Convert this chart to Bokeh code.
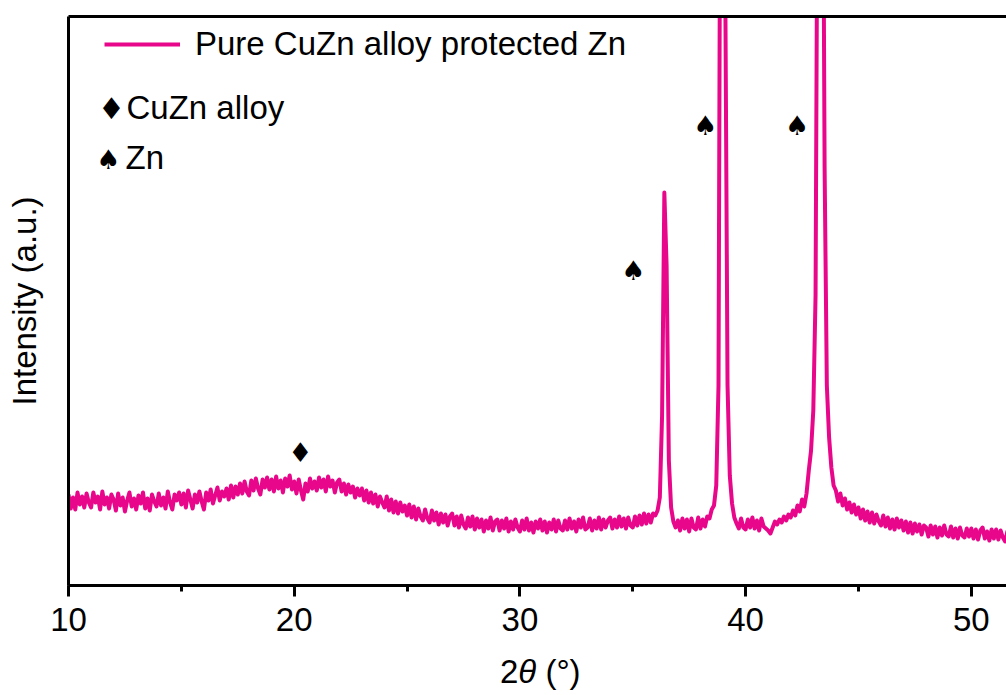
from bokeh.plotting import figure
from bokeh.layouts import column
from bokeh.models import (Range1d, LinearAxis, FixedTicker, SingleIntervalTicker,
                          Legend, LegendItem, Label, ColumnDataSource, Div)
from bokeh.core.properties import value
from bokeh.embed import file_html
from bokeh.resources import INLINE

# ---------------- data ----------------
two_theta_start = 10.0
two_theta_step = 0.1
intensity = [
    91, 77, 88, 76, 93, 81, 89, 78, 92, 83,        # 10
    78, 93, 83, 89, 76, 94, 81, 88, 77, 91,        # 11
    86, 75, 92, 80, 88, 74, 85, 93, 79, 87,        # 12
    76, 90, 82, 93, 77, 87, 75, 91, 84, 79,        # 13
    92, 80, 88, 77, 94, 83, 76, 91, 85, 93,        # 14
    81, 92, 78, 95, 86, 77, 91, 83, 94, 84,        # 15
    76, 93, 85, 96, 82, 90, 98, 85, 94, 89,        # 16
    97, 86, 100, 88, 99, 91, 102, 92, 104, 94,     # 17
    90, 105, 95, 107, 97, 91, 106, 98, 108, 96,    # 18
    106, 94, 109, 97, 105, 93, 107, 99, 110, 96,   # 19
    104, 92, 106, 95, 86, 102, 94, 107, 97, 104,   # 20
    95, 108, 98, 106, 94, 109, 99, 105, 93, 103,   # 21
    106, 94, 102, 91, 101, 93, 99, 88, 97, 90,     # 22
    97, 85, 95, 83, 93, 82, 91, 79, 89, 83,        # 23
    78, 89, 75, 86, 73, 84, 72, 83, 74, 80,        # 24
    70, 81, 68, 79, 66, 77, 69, 65, 76, 67,        # 25
    63, 75, 65, 73, 61, 72, 63, 71, 60, 69,        # 26
    72, 60, 69, 58, 70, 61, 57, 68, 59, 69,        # 27
    56, 67, 58, 66, 54, 65, 57, 68, 55, 64,        # 28
    66, 55, 65, 57, 67, 54, 64, 56, 66, 58,        # 29
    54, 65, 56, 67, 55, 63, 53, 64, 57, 66,        # 30
    55, 64, 53, 63, 56, 66, 54, 65, 57, 55,        # 31
    65, 56, 67, 57, 64, 54, 66, 58, 68, 56,        # 32
    58, 67, 55, 65, 57, 68, 56, 66, 58, 65,        # 33
    68, 57, 66, 58, 69, 59, 67, 57, 68, 60,        # 34
    58, 69, 60, 70, 61, 72, 62, 71, 63, 72,        # 35
    70, 75, 88, 170, 393, 320, 125, 78, 64, 58,    # 36
    65, 55, 67, 57, 66, 54, 67, 58, 56, 68,        # 37
    57, 66, 59, 69, 67, 76, 80, 100, 200, 900,     # 38
    2500, 600, 200, 110, 82, 68, 62, 57, 67, 58,   # 39
    56, 66, 58, 68, 57, 65, 55, 67, 59, 57,        # 40
    55, 52, 58, 64, 61, 66, 63, 69, 65, 71,        # 41
    68, 75, 70, 80, 74, 86, 79, 92, 115, 135,      # 42
    175, 290, 800, 1300, 900, 420, 200, 148, 118, 100,  # 43
    95, 84, 92, 80, 87, 76, 83, 73, 81, 71,        # 44
    78, 67, 76, 65, 74, 63, 73, 62, 71, 64,        # 45
    60, 70, 59, 68, 57, 66, 56, 67, 58, 65,        # 46
    55, 64, 53, 63, 52, 62, 54, 61, 51, 60,        # 47
    58, 49, 60, 51, 59, 48, 58, 50, 60, 51,        # 48
    49, 59, 48, 57, 47, 58, 50, 48, 57, 49,        # 49
    57, 47, 56, 46, 55, 58, 47, 54, 45, 56,        # 50
    47, 56, 46, 55, 48, 44, 54, 47,                # 51
]
two_theta = [round(two_theta_start + two_theta_step * i, 2) for i in range(len(intensity))]

marker_x = [20.27, 35.02, 38.21, 42.27]
marker_y = [133, 315, 460, 460]
marker_symbol = ["\u2666", "\u2660", "\u2660", "\u2660"]

series_label = "Pure CuZn alloy protected Zn"
phase_symbols = ["\u2666", "\u2660"]
phase_labels = ["CuZn alloy", "Zn"]

x_start, x_end = 10, 51.56
y_start, y_end = 0, 569

# ---------------- styling ----------------
FONT = "Liberation Sans"
SYM_FONT = "DejaVu Sans"
PINK = "#E8078B"
FS = "33px"

p = figure(width=1006, height=655, output_backend="svg", toolbar_location=None,
           x_range=Range1d(x_start, x_end), y_range=Range1d(y_start, y_end),
           min_border_left=68, min_border_right=0, min_border_top=16, min_border_bottom=70,
           background_fill_color="white", border_fill_color="white", margin=0)
p.xgrid.visible = False
p.ygrid.visible = False
p.outline_line_color = None

xa = p.xaxis[0]
xa.ticker = SingleIntervalTicker(interval=10, num_minor_ticks=2)
xa.axis_line_width = 3
xa.axis_line_color = "black"
xa.major_tick_line_width = 3
xa.minor_tick_line_width = 3
xa.major_tick_line_color = "black"
xa.minor_tick_line_color = "black"
xa.major_tick_out = 11
xa.major_tick_in = 0
xa.minor_tick_out = 6
xa.minor_tick_in = 0
xa.major_label_text_font = FONT
xa.major_label_text_font_size = FS
xa.major_label_text_color = "black"
xa.major_label_standoff = 11

ya = p.yaxis[0]
ya.ticker = FixedTicker(ticks=[])
ya.axis_line_width = 3
ya.axis_line_color = "black"
ya.major_tick_out = 0
ya.major_tick_in = 0
ya.minor_tick_out = 0
ya.minor_tick_in = 0
ya.major_label_text_font_size = "0px"
ya.major_label_standoff = 0
ya.axis_label = "Intensity (a.u.)"
ya.axis_label_text_font = FONT
ya.axis_label_text_font_size = FS
ya.axis_label_text_font_style = "normal"
ya.axis_label_text_color = "black"
ya.axis_label_standoff = 26

top_axis = LinearAxis(ticker=FixedTicker(ticks=[]), axis_line_width=3, axis_line_color="black",
                      major_tick_out=0, major_tick_in=0, minor_tick_out=0, minor_tick_in=0,
                      major_label_text_font_size="0px", major_label_standoff=0)
p.add_layout(top_axis, "above")

src = ColumnDataSource(data=dict(x=two_theta, y=intensity))
line = p.line("x", "y", source=src, line_color=PINK, line_width=4, line_join="round")

msrc = ColumnDataSource(data=dict(x=marker_x, y=marker_y, t=marker_symbol))
p.text("x", "y", text="t", source=msrc, text_font=value(SYM_FONT), text_font_size="27px",
       text_align="center", text_baseline="middle", text_color="black")

legend = Legend(items=[LegendItem(label=series_label, renderers=[line])],
                location=(36, 522), glyph_width=76, glyph_height=38, label_height=38,
                label_standoff=15, padding=0, margin=0, spacing=0,
                border_line_color=None, background_fill_alpha=0,
                label_text_font=FONT, label_text_font_size=FS, label_text_color="black")
p.add_layout(legend)

# phase symbol key rows
sym_pos = [(43, 477, "30px"), (39.5, 426, "27px")]
txt_pos = [(58, 478), (57, 428)]
for (sx, sy, sfs), (tx, ty), sym, lab in zip(sym_pos, txt_pos, phase_symbols, phase_labels):
    p.add_layout(Label(x=sx, y=sy, x_units="screen", y_units="screen", text=sym,
                       text_font=SYM_FONT, text_font_size=sfs, text_align="center",
                       text_baseline="middle", text_color="black"))
    p.add_layout(Label(x=tx, y=ty, x_units="screen", y_units="screen", text=lab,
                       text_font=FONT, text_font_size=FS, text_align="left",
                       text_baseline="alphabetic", text_color="black"))

# x-axis title: 2θ (°) with italic theta
xtitle = Div(text="2<i>\u03b8</i> (\u00b0)", width=1006, height=40, margin=0,
             styles={"font-family": FONT, "font-size": "33px", "line-height": "1",
                     "padding-left": "500px", "color": "black", "white-space": "nowrap"})

layout = column(p, xtitle, spacing=0, margin=0)
open("out.html", "w").write(file_html(layout, INLINE))
